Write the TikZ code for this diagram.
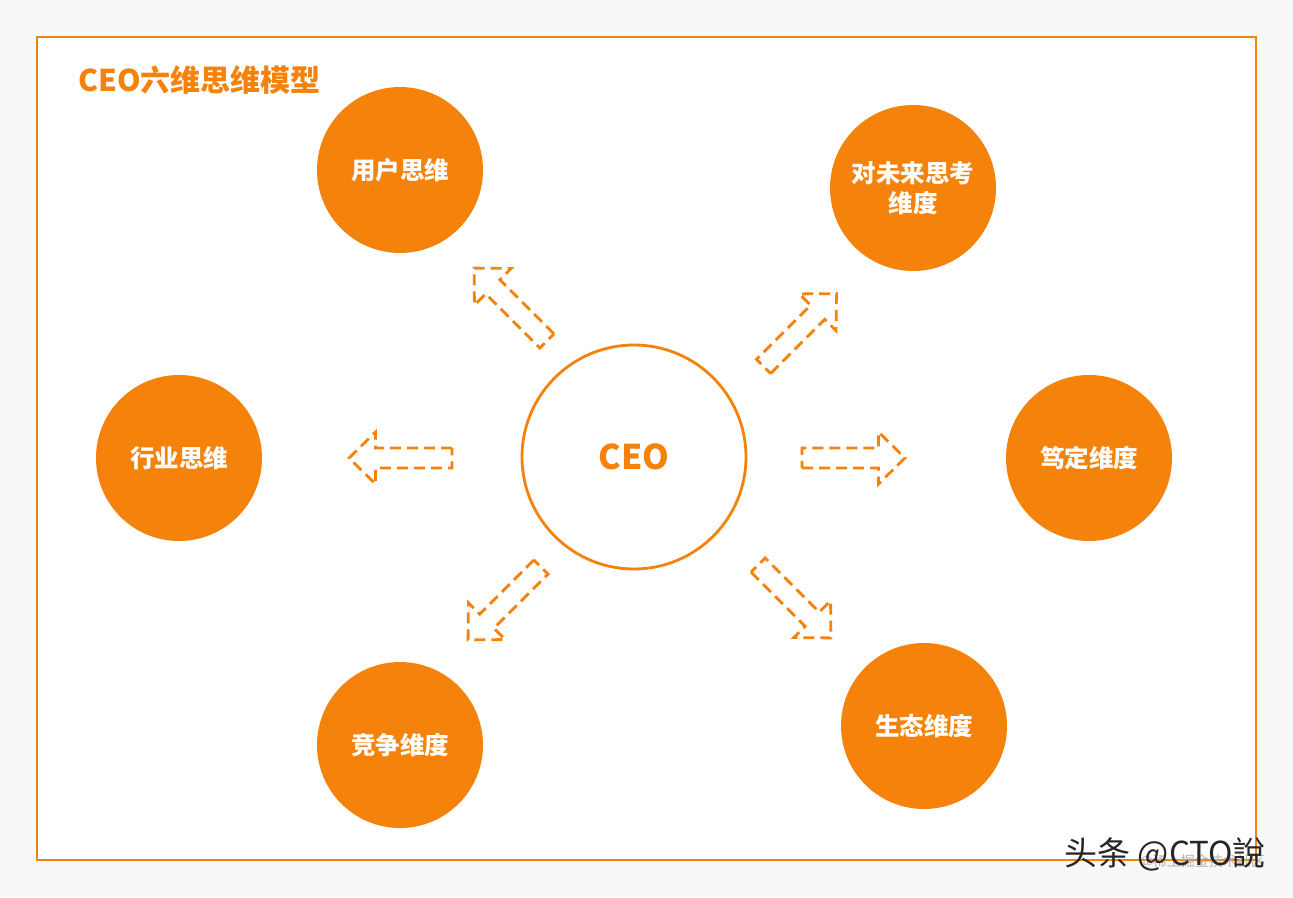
\documentclass[tikz,border=0pt]{standalone}
\usepackage{fontspec}
\setmainfont{Noto Sans CJK SC}
\newfontfamily\cjk{Noto Sans CJK SC}
\definecolor{org}{HTML}{F5820B}
\definecolor{bgc}{HTML}{F8F8F8}
\tikzset{
  blob/.style={circle,fill=org,draw=none,minimum size=166pt,inner sep=0pt,
    text=white,font=\cjk\bfseries\fontsize{24.5}{30}\selectfont,align=center},
  hub/.style={circle,fill=white,draw=org,line width=2.8pt,minimum size=224pt,inner sep=0pt,
    text=org,font=\cjk\bfseries\fontsize{34}{40}\selectfont},
  dasharrow/.style={draw=org,line width=2.8pt,dash pattern=on 11pt off 6pt,line join=miter}
}
\newcommand{\blockarrow}[3]{%
  \begin{scope}[shift={(#1,#2)},rotate=#3]
    \draw[dasharrow] (-51.5,-10) -- (25,-10) -- (25,-26) -- (51.5,0) -- (25,26) -- (25,10) -- (-51.5,10) -- cycle;
  \end{scope}}
\begin{document}
\begin{tikzpicture}[x=1pt,y=1pt]
\useasboundingbox (0,0) rectangle (1293,-897);
\fill[bgc] (0,0) rectangle (1293,-897);
\draw[org,line width=2.8pt,fill=white] (37,-37) rectangle (1256,-860);
\node[anchor=west,text=org,font=\cjk\bfseries\fontsize{30}{32}\selectfont,inner sep=0pt] (title) at (78,-80) {CEO六维思维模型};
\node[hub] (ceo) at (634,-457) {CEO};
\node[blob] (yh) at (400,-170) {用户思维};
\node[blob] (wl) at (913,-188) {对未来思考\\维度};
\node[blob] (hy) at (179,-458) {行业思维};
\node[blob] (dd) at (1089,-458) {笃定维度};
\node[blob] (jz) at (400,-745) {竞争维度};
\node[blob] (st) at (924,-726) {生态维度};
\blockarrow{400.5}{-458}{180}
\blockarrow{853.5}{-458}{0}
\blockarrow{510.5}{-304.5}{135}
\blockarrow{800}{-330}{45}
\blockarrow{504.5}{-603.5}{225}
\blockarrow{794.5}{-601.5}{-45}
\node[anchor=east,text=gray!60,font=\cjk\fontsize{14}{16}\selectfont,inner sep=0pt] (wm2) at (1265,-862) {@稀土掘金技术社区};
\node[anchor=east,text=black!85,font=\cjk\fontsize{33}{36}\selectfont,inner sep=0pt] (wm) at (1266,-854) {头条 @CTO說};
\end{tikzpicture}
\end{document}
